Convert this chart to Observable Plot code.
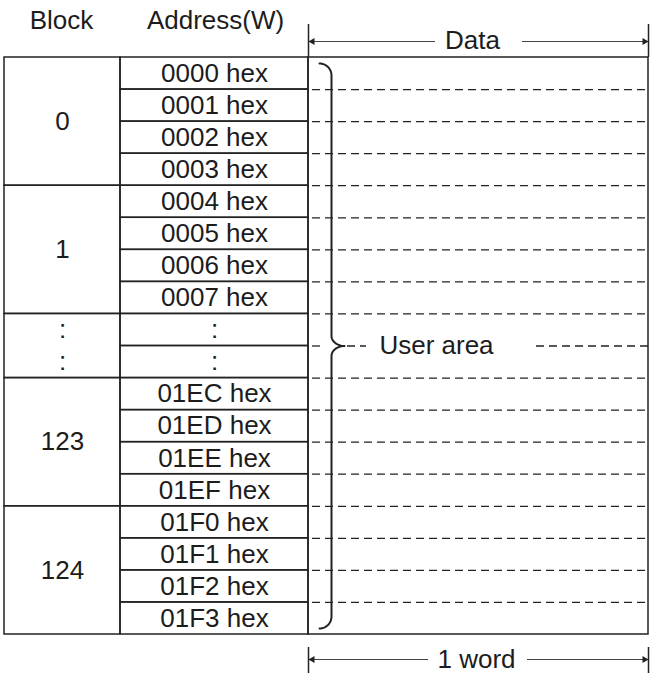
<!DOCTYPE html>
<html><head><meta charset="utf-8">
<script src="https://cdn.jsdelivr.net/npm/d3@7"></script>
<script src="https://cdn.jsdelivr.net/npm/@observablehq/plot@0.6"></script>
<style>body{margin:0;background:#fff}</style>
</head><body><div id="chart"></div>
<script>
const addresses = ["0000 hex","0001 hex","0002 hex","0003 hex","0004 hex","0005 hex","0006 hex","0007 hex",":",":","01EC hex","01ED hex","01EE hex","01EF hex","01F0 hex","01F1 hex","01F2 hex","01F3 hex"];
const blockLabels = ["0","1",":","123","124"];
const blockSizes = [4,4,2,4,4];
const headers = ["Block","Address(W)"];
const dataLabel = "Data";
const wordLabel = "1 word";
const userLabel = "User area";

// layout
const W = 650, H = 673;
const xL = 4, xB = 120, xA = 308, xR = 648;
const yTop = 57, yBottom = 634;
const n = addresses.length;
const rh = (yBottom - yTop) / n;
const ry = i => yTop + i * rh;
const font = "Liberation Sans, Arial, Helvetica, sans-serif";
const fs = 26;
const ink = "#1c1c1c";

const addrCells = addresses.map((a, i) => ({a, i}));
let s = 0;
const blocks = blockLabels.map((b, k) => { const o = {b, start: s, n: blockSizes[k]}; s += blockSizes[k]; return o; });
const blockTexts = [];
blocks.forEach(b => {
  if (b.b === ":") { for (let j = 0; j < b.n; j++) blockTexts.push({t: ":", y: ry(b.start + j + 0.5)}); }
  else blockTexts.push({t: b.b, y: ry(b.start + b.n / 2)});
});

const midIdx = 9; // brace tip row boundary
const yMid = ry(midIdx);
const dashRows = d3.range(1, n).filter(i => i !== midIdx).map(i => ({y: ry(i)}));
const braceX = 331, braceTip = 344;
const midSegs = [
  {x1: xA + 4, x2: braceX - 9, y: yMid},
  {x1: braceTip + 3, x2: 366, y: yMid},
  {x1: 536, x2: xR, y: yMid}
];

// brace points
const bTop = yTop + 6, bBot = yBottom - 6, r = 12;
const brace = [];
const arc = (cx, cy, rx, ryy, a0, a1) => { for (let k = 0; k <= 12; k++) { const t = a0 + (a1 - a0) * k / 12; brace.push([cx + rx * Math.cos(t), cy + ryy * Math.sin(t)]); } };
arc(braceX - r, bTop + r, r, r, -Math.PI/2, 0);
arc(braceTip, yMid - 10, braceTip - braceX, 10, Math.PI, Math.PI/2);
arc(braceTip, yMid + 10, braceTip - braceX, 10, -Math.PI/2, -Math.PI);
arc(braceX - r, bBot - r, r, r, 0, Math.PI/2);

const arrowRows = [
  {y: 41, ty: 40, label: dataLabel, cx: 472, t1: 24, t2: yTop, e1: 435, e2: 522},
  {y: 659, ty: 659, label: wordLabel, cx: 476, t1: 647, t2: H, e1: 428, e2: 527}
];

const chart = Plot.plot({
  width: W, height: H,
  margin: 0,
  style: {fontFamily: font, background: "#fff", color: ink},
  x: {domain: [0, W], range: [0, W], axis: null},
  y: {domain: [0, H], range: [0, H], axis: null},
  marks: [
    Plot.ruleY(dashRows, {y: "y", x1: xA + 4, x2: xR, stroke: "#222", strokeWidth: 1.3, strokeDasharray: "8,5"}),
    Plot.ruleY(midSegs, {y: "y", x1: "x1", x2: "x2", stroke: "#222", strokeWidth: 1.3, strokeDasharray: "8,5"}),
    Plot.rect(addrCells, {x1: xB, x2: xA, y1: d => ry(d.i), y2: d => ry(d.i + 1), fill: "none", stroke: "#222", strokeWidth: 1.5}),
    Plot.rect(blocks, {x1: xL, x2: xB, y1: d => ry(d.start), y2: d => ry(d.start + d.n), fill: "none", stroke: "#222", strokeWidth: 1.5}),
    Plot.rect([0], {x1: xA, x2: xR, y1: yTop, y2: yBottom, fill: "none", stroke: "#222", strokeWidth: 1.5}),
    Plot.text(addrCells, {x: (xB + xA) / 2, y: d => ry(d.i + 0.5), text: "a", fontSize: fs, fill: ink}),
    Plot.text(blockTexts, {x: (xL + xB) / 2, y: "y", text: "t", fontSize: fs, fill: ink}),
    Plot.text(headers, {x: [61, 215], y: 20, text: d => d, fontSize: fs, fill: ink}),
    Plot.text([userLabel], {x: 436, y: yMid, text: d => d, fontSize: fs, fill: ink}),
    Plot.line(brace, {x: d => d[0], y: d => d[1], stroke: "#222", strokeWidth: 2, curve: "linear"}),
    Plot.ruleX(arrowRows.flatMap(a => [{x: xA, ...a}, {x: xR, ...a}]), {x: "x", y1: "t1", y2: "t2", stroke: "#222", strokeWidth: 1.5}),
    Plot.ruleY(arrowRows.flatMap(a => [{x1: xA + 1, x2: a.e1, y: a.y}, {x1: a.e2, x2: xR - 1, y: a.y}]), {y: "y", x1: "x1", x2: "x2", stroke: "#444", strokeWidth: 1}),
    Plot.dot(arrowRows.flatMap(a => [{x: xA + 4, y: a.y, r: -90}, {x: xR - 4, y: a.y, r: 90}]), {x: "x", y: "y", symbol: "triangle", r: 2.6, rotate: "r", fill: "#222", stroke: "none"}),
    Plot.text(arrowRows, {x: "cx", y: "ty", text: "label", fontSize: fs, fill: ink})
  ]
});
document.getElementById("chart").appendChild(chart);
</script>
</body></html>
